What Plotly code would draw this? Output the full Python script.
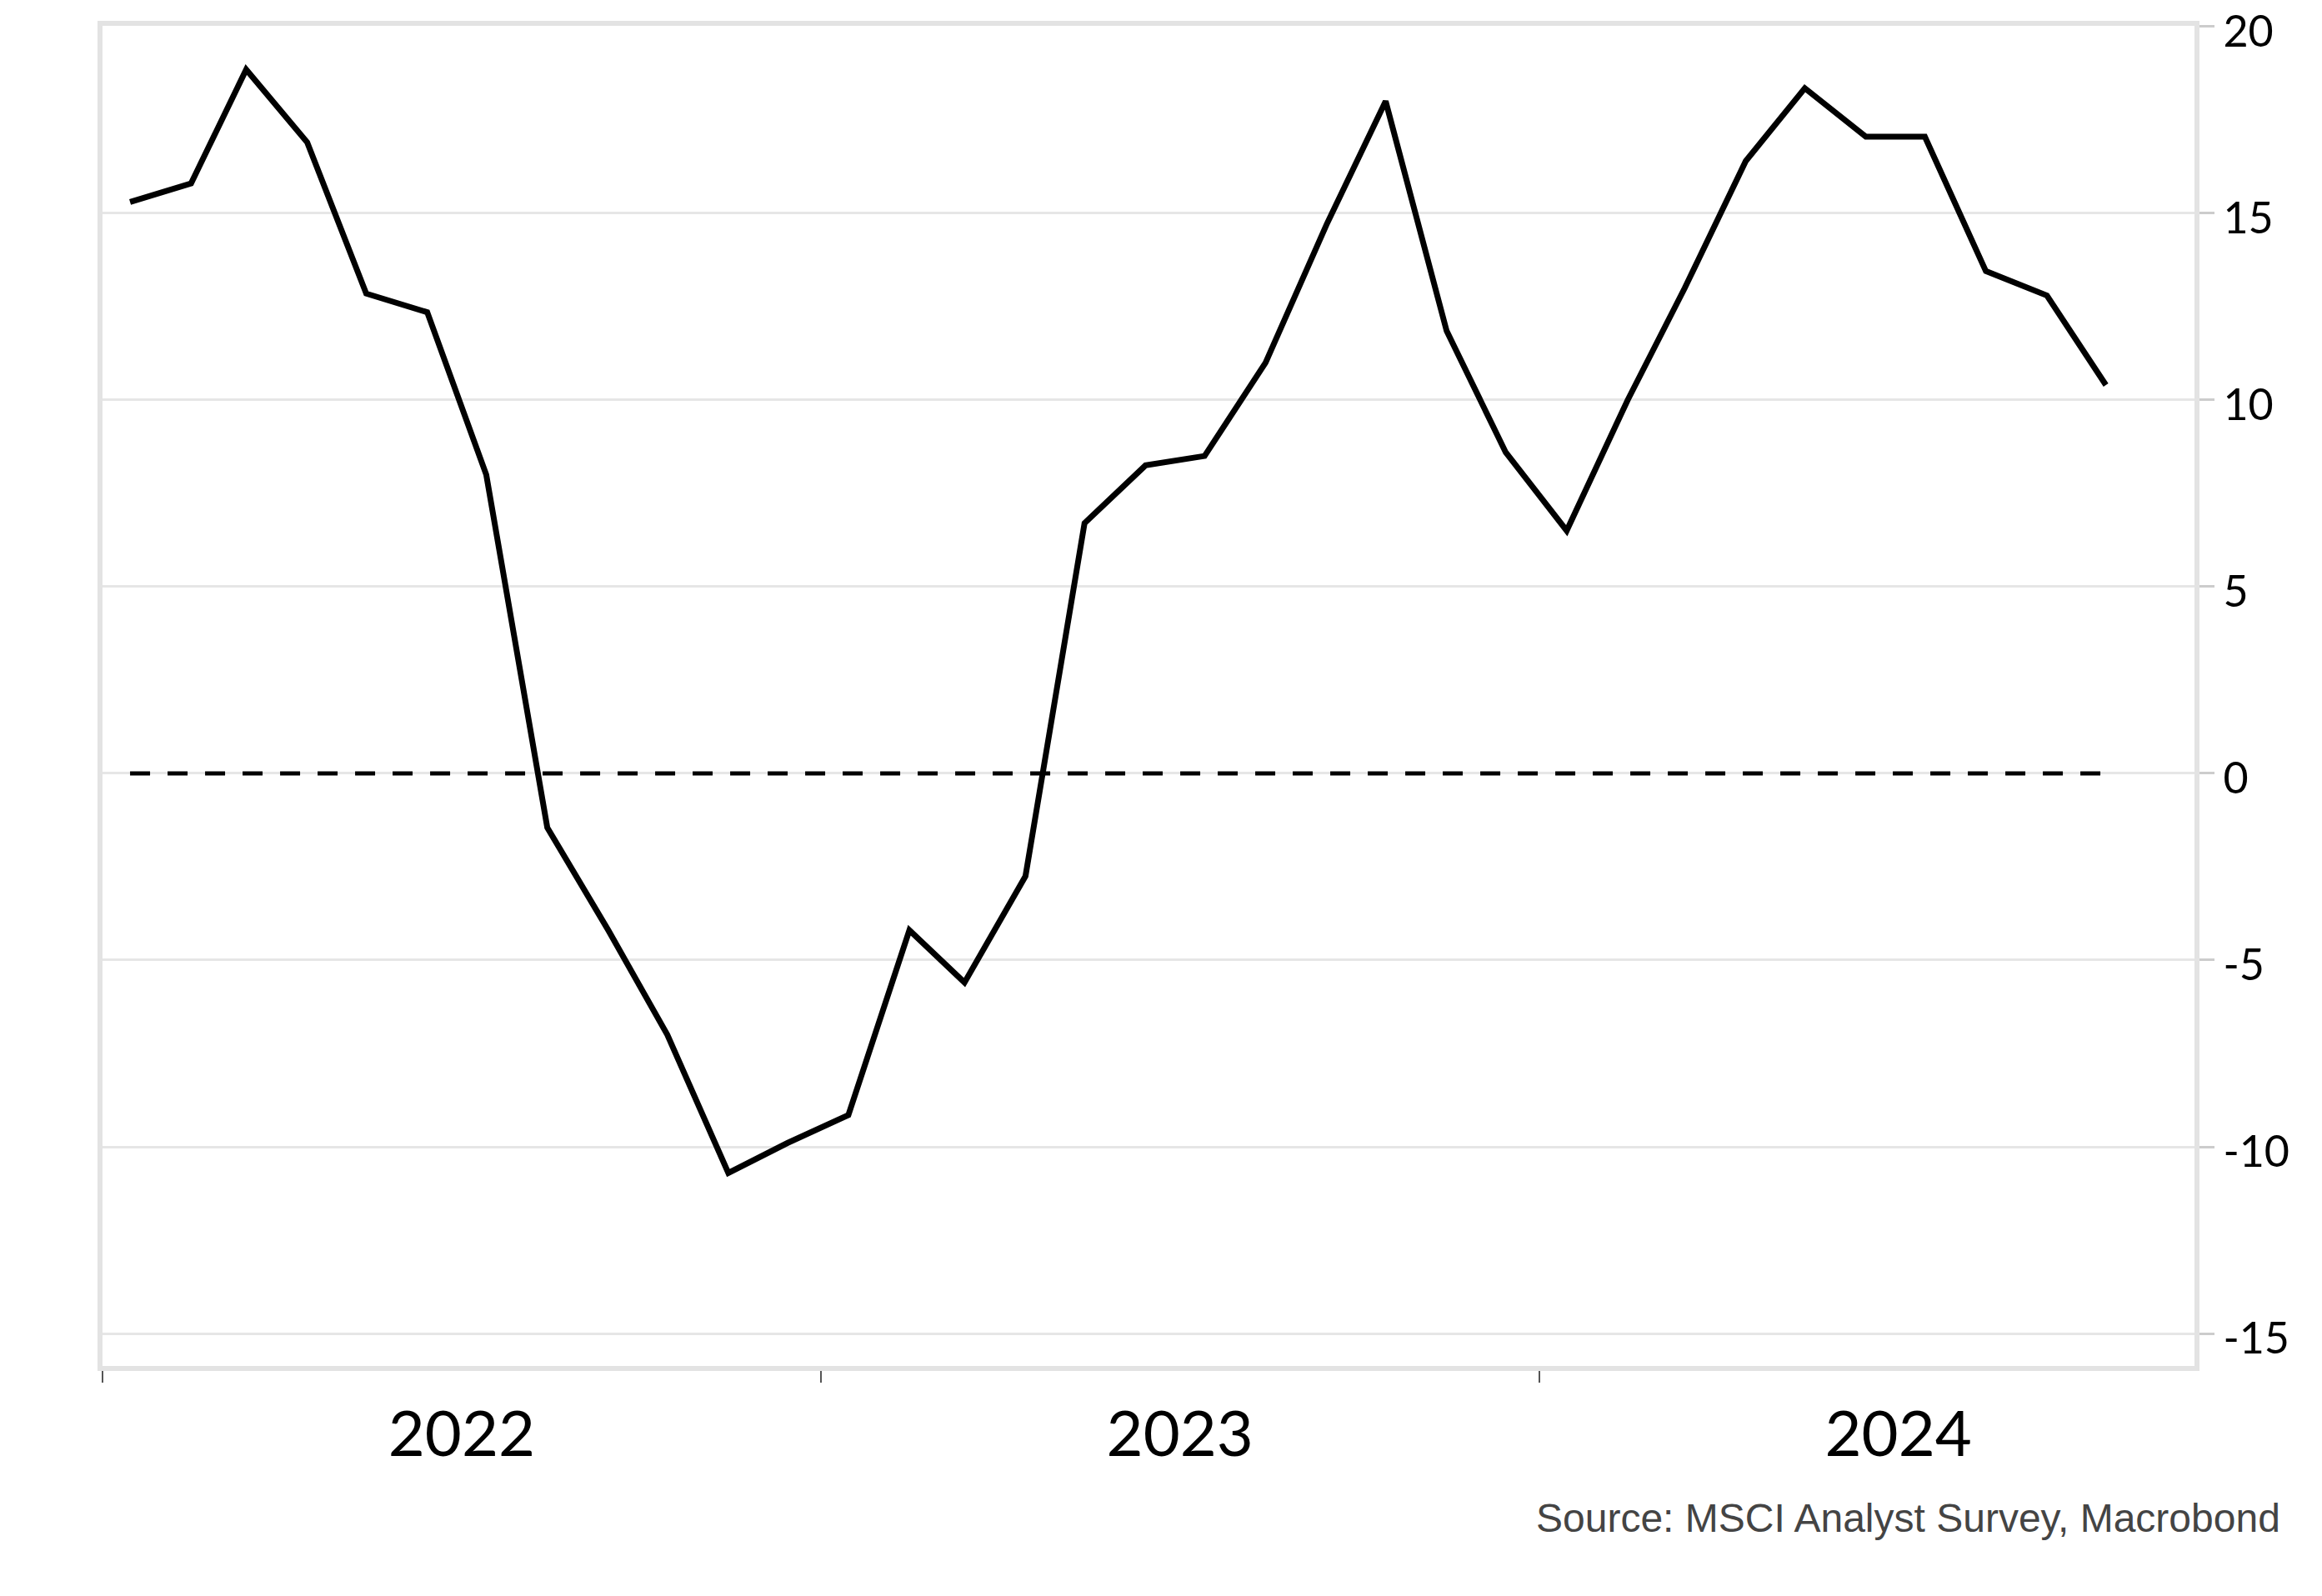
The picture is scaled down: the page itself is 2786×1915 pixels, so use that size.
import plotly.graph_objects as go

# Monthly observations (mid-month), Jan 2022 - Oct 2024
months = [
    "2022-01-15", "2022-02-15", "2022-03-15", "2022-04-15", "2022-05-15", "2022-06-15",
    "2022-07-15", "2022-08-15", "2022-09-15", "2022-10-15", "2022-11-15", "2022-12-15",
    "2023-01-15", "2023-02-15", "2023-03-15", "2023-04-15", "2023-05-15", "2023-06-15",
    "2023-07-15", "2023-08-15", "2023-09-15", "2023-10-15", "2023-11-15", "2023-12-15",
    "2024-01-15", "2024-02-15", "2024-03-15", "2024-04-15", "2024-05-15", "2024-06-15",
    "2024-07-15", "2024-08-15", "2024-09-15", "2024-10-15",
]
values = [
    15.3, 15.8, 18.85, 16.9, 12.85, 12.35,
    8.0, -1.45, -4.2, -7.0, -10.7, -9.9,
    -9.15, -4.2, -5.6, -2.75, 6.7, 8.25,
    8.5, 11.0, 14.7, 18.0, 11.85, 8.6,
    6.5, 10.0, 13.0, 16.4, 18.35, 17.05,
    17.05, 13.45, 12.8, 10.4,
]
zero_level = [0, 0]
y_ticks = [-15, -10, -5, 0, 5, 10, 15, 20]
y_tick_text = ["-15", "-10", "-5", "0", "5", "10", "15", "20"]
source_text = "Source: MSCI Analyst Survey, Macrobond"

W, H = 2786, 1915
L, R, T, B = 123, 153, 31, 276

fig = go.Figure()
fig.add_trace(go.Scatter(
    x=[months[0], months[-1]], y=zero_level, mode="lines",
    line=dict(color="black", width=5, dash="24px,21px"),
    showlegend=False, hoverinfo="skip",
))
fig.add_trace(go.Scatter(
    x=months, y=values, mode="lines",
    line=dict(color="black", width=7),
    showlegend=False,
))

fig.update_layout(
    width=W, height=H,
    margin=dict(l=L, r=R, t=T, b=B, autoexpand=False),
    paper_bgcolor="white", plot_bgcolor="white",
    font=dict(family="Lato, Open Sans, sans-serif", color="black"),
    xaxis=dict(
        type="date", automargin=False,
        range=["2022-01-01", "2024-11-29"],
        tick0="2022-01-01", dtick="M12",
        ticklabelmode="period", tickformat="%Y",
        ticks="outside", ticklen=14, tickwidth=2, tickcolor="#555555",
        ticklabelstandoff=-3,
        tickfont=dict(size=76, family="Lato, sans-serif", color="black"),
        showgrid=False, zeroline=False,
        showline=True, mirror=True, linecolor="#e3e3e3", linewidth=6,
    ),
    yaxis=dict(
        side="right", automargin=False,
        range=[-15.87, 20.02],
        tickvals=y_ticks, ticktext=y_tick_text,
        ticks="outside", ticklen=18, tickwidth=3, tickcolor="#cccccc",
        ticklabeloverflow="allow", ticklabelshift=6,
        tickfont=dict(size=52, family="Lato, sans-serif", color="black"),
        showgrid=True, gridcolor="#e6e6e6", gridwidth=3,
        zeroline=False,
        showline=True, mirror=True, linecolor="#e3e3e3", linewidth=6,
    ),
)

fig.add_annotation(
    text=source_text, xref="paper", yref="paper",
    x=(2738 - L) / (W - R - L), y=-(1821 - (H - B)) / (H - B - T),
    xanchor="right", yanchor="middle", showarrow=False,
    font=dict(family="Liberation Sans, Arial, sans-serif", size=48, color="#444444"),
)

fig.write_html(
    "out.html",
    config={"displayModeBar": False},
    post_script="document.body.style.margin='0';document.body.style.overflow='hidden';",
)
